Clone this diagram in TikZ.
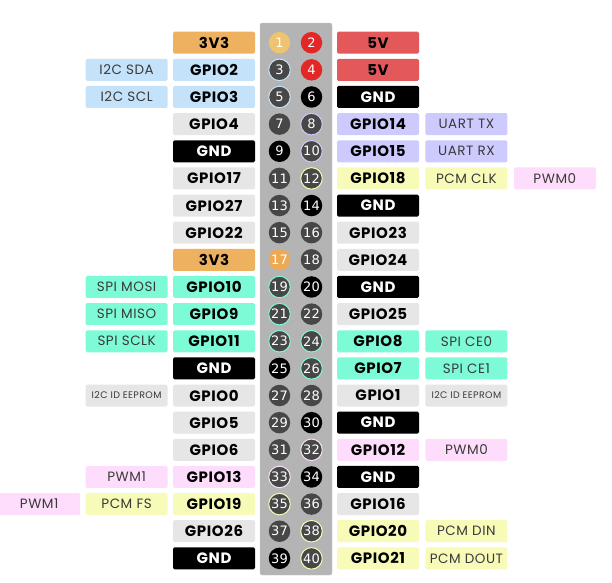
\documentclass[tikz,border=0pt]{standalone}
\usepackage{fontspec}
\newfontfamily\labelfont[LetterSpace=4]{Poppins}
\newfontfamily\numfont{DejaVu Sans}
\usetikzlibrary{positioning}
\definecolor{hdrgray}{HTML}{B4B4B4}
\definecolor{pindark}{HTML}{474747}
\definecolor{orangea}{HTML}{EFC470}
\definecolor{orangeb}{HTML}{EDA955}
\definecolor{pwrorange}{HTML}{EDB15F}
\definecolor{pwrred}{HTML}{E35858}
\definecolor{pinred}{HTML}{E32626}
\definecolor{gpiogray}{HTML}{E6E6E6}
\definecolor{i2cblue}{HTML}{C4E3FB}
\definecolor{uartlav}{HTML}{CDCBFD}
\definecolor{pcmyel}{HTML}{F8FBB8}
\definecolor{pwmpink}{HTML}{FDDDFB}
\definecolor{spigreen}{HTML}{7DFAD6}
\definecolor{functext}{HTML}{3A3A3A}
\tikzset{pinhole/.style={circle, minimum size=21.5pt, inner sep=0pt, fill=pindark, text=white, font=\numfont\fontsize{13}{14}\selectfont}}
\tikzset{pplain/.style={}}
\tikzset{pgnd/.style={fill=black}}
\tikzset{pred/.style={fill=pinred}}
\tikzset{pora/.style={fill=orangea}}
\tikzset{porb/.style={fill=orangeb}}
\tikzset{ri2c/.style={draw=i2cblue, line width=1pt}}
\tikzset{ruart/.style={draw=uartlav, line width=1pt}}
\tikzset{rpcm/.style={draw=pcmyel, line width=1pt}}
\tikzset{rpwm/.style={draw=pwmpink, line width=1pt}}
\tikzset{rspi/.style={draw=spigreen, line width=1pt}}
\tikzset{tag/.style={rectangle, rounded corners=1.5pt, minimum width=82pt, minimum height=22pt, inner sep=0pt, fill=gpiogray, font=\labelfont\bfseries\fontsize{15}{16}\selectfont}}
\tikzset{func/.style={tag, text=functext, font=\labelfont\fontsize{13.5}{16}\selectfont}}
\tikzset{tiny/.style={font=\labelfont\fontsize{9.5}{11}\selectfont}}
\tikzset{tgpio/.style={}}
\tikzset{tgnd/.style={fill=black, text=white}}
\tikzset{t3v3/.style={fill=pwrorange}}
\tikzset{t5v/.style={fill=pwrred}}
\tikzset{ti2c/.style={fill=i2cblue}}
\tikzset{tuart/.style={fill=uartlav}}
\tikzset{tpcm/.style={fill=pcmyel}}
\tikzset{tpwm/.style={fill=pwmpink}}
\tikzset{tspi/.style={fill=spigreen}}
\begin{document}
\begin{tikzpicture}[x=1pt, y=-1pt]
\useasboundingbox (0,0) rectangle (612,582);
% header
\node[fill=hdrgray, draw=hdrgray!70!white, rounded corners=2pt, minimum width=72pt, minimum height=552pt, inner sep=0pt] (hdr) at (296,299) {};
% pins
\foreach \n/\s in {1/pora, 2/pred, 3/ri2c, 4/pred, 5/ri2c, 6/pgnd, 7/pplain, 8/ruart, 9/pgnd, 10/ruart,
  11/pplain, 12/rpcm, 13/pplain, 14/pgnd, 15/pplain, 16/pplain, 17/porb, 18/pplain, 19/rspi, 20/pgnd,
  21/rspi, 22/pplain, 23/rspi, 24/rspi, 25/pgnd, 26/rspi, 27/pplain, 28/pplain, 29/pplain, 30/pgnd,
  31/pplain, 32/rpwm, 33/rpwm, 34/pgnd, 35/rpcm, 36/pplain, 37/pplain, 38/rpcm, 39/pgnd, 40/rpcm}
{
  \pgfmathtruncatemacro\row{(\n-1)/2}
  \pgfmathsetmacro\px{mod(\n,2)==1 ? 279.5 : 311.5}
  \node[pinhole, \s] (p\n) at (\px, {42.7+27.14*\row}) {\n};
}
% left names
\foreach \t/\s [count=\r] in {3V3/t3v3, GPIO2/ti2c, GPIO3/ti2c, GPIO4/tgpio, GND/tgnd,
  GPIO17/tgpio, GPIO27/tgpio, GPIO22/tgpio, 3V3/t3v3, GPIO10/tspi,
  GPIO9/tspi, GPIO11/tspi, GND/tgnd, GPIO0/tgpio, GPIO5/tgpio,
  GPIO6/tgpio, GPIO13/tpwm, GPIO19/tpcm, GPIO26/tgpio, GND/tgnd}
  \node[tag, \s] (l\r) at (214, {42.7+27.14*(\r-1)}) {\t};
% right names
\foreach \t/\s [count=\r] in {5V/t5v, 5V/t5v, GND/tgnd, GPIO14/tuart, GPIO15/tuart,
  GPIO18/tpcm, GND/tgnd, GPIO23/tgpio, GPIO24/tgpio, GND/tgnd,
  GPIO25/tgpio, GPIO8/tspi, GPIO7/tspi, GPIO1/tgpio, GND/tgnd,
  GPIO12/tpwm, GND/tgnd, GPIO16/tgpio, GPIO20/tpcm, GPIO21/tpcm}
  \node[tag, \s] (r\r) at (378, {42.7+27.14*(\r-1)}) {\t};
% left functions
\node[func, ti2c, left=5pt of l2] (fl2) {I2C SDA};
\node[func, ti2c, left=5pt of l3] (fl3) {I2C SCL};
\node[func, tspi, left=5pt of l10] (fl10) {SPI MOSI};
\node[func, tspi, left=5pt of l11] (fl11) {SPI MISO};
\node[func, tspi, left=5pt of l12] (fl12) {SPI SCLK};
\node[func, tiny, left=5pt of l14] (fl14) {I2C ID EEPROM};
\node[func, tpwm, left=5pt of l17] (fl17) {PWM1};
\node[func, tpcm, left=5pt of l18] (fl18) {PCM FS};
\node[func, tpwm, left=5pt of fl18] (gl18) {PWM1};
% right functions
\node[func, tuart, right=6pt of r4] (fr4) {UART TX};
\node[func, tuart, right=6pt of r5] (fr5) {UART RX};
\node[func, tpcm, right=6pt of r6] (fr6) {PCM CLK};
\node[func, tpwm, right=6pt of fr6] (gr6) {PWM0};
\node[func, tspi, right=6pt of r12] (fr12) {SPI CE0};
\node[func, tspi, right=6pt of r13] (fr13) {SPI CE1};
\node[func, tiny, right=6pt of r14] (fr14) {I2C ID EEPROM};
\node[func, tpwm, right=6pt of r16] (fr16) {PWM0};
\node[func, tpcm, right=6pt of r19] (fr19) {PCM DIN};
\node[func, tpcm, right=6pt of r20] (fr20) {PCM DOUT};
\end{tikzpicture}
\end{document}
